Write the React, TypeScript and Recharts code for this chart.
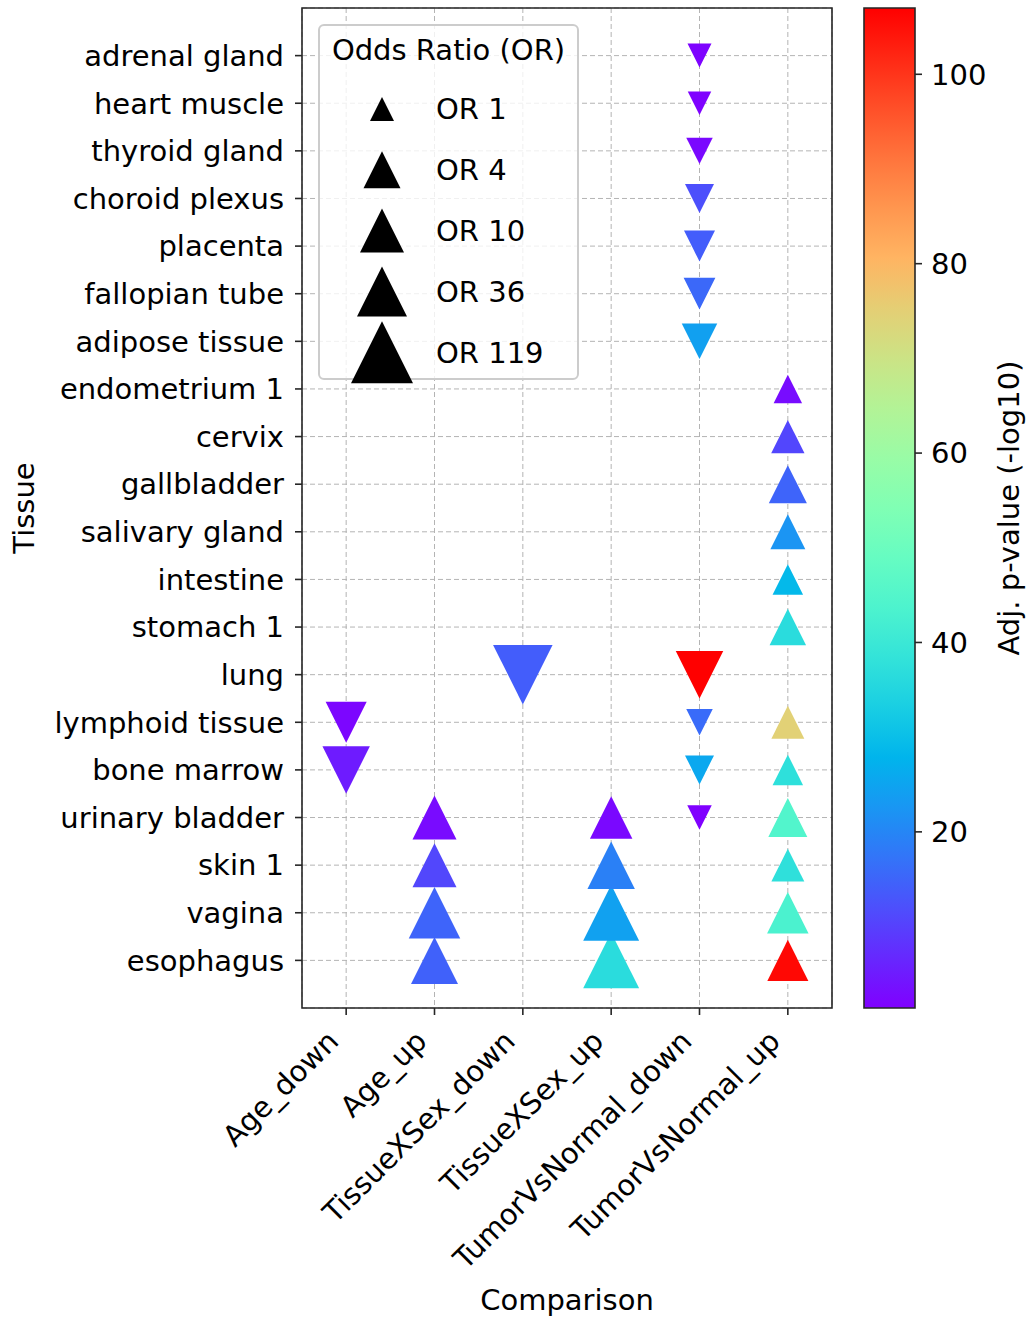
import React from "react";
import {
  CartesianGrid,
  ComposedChart,
  Label,
  Legend,
  ReferenceArea,
  Scatter,
  ScatterChart,
  XAxis,
  YAxis
} from "recharts";

const FONT = "DejaVu Sans";
const W = 1027;
const H = 1318;

const tissues = [
  "adrenal gland",
  "heart muscle",
  "thyroid gland",
  "choroid plexus",
  "placenta",
  "fallopian tube",
  "adipose tissue",
  "endometrium 1",
  "cervix",
  "gallbladder",
  "salivary gland",
  "intestine",
  "stomach 1",
  "lung",
  "lymphoid tissue",
  "bone marrow",
  "urinary bladder",
  "skin 1",
  "vagina",
  "esophagus"
];

const comparisons = [
  "Age_down",
  "Age_up",
  "TissueXSex_down",
  "TissueXSex_up",
  "TumorVsNormal_down",
  "TumorVsNormal_up"
];

type Hit = { tissue: string; or: number; p: number };

// or = odds ratio, p = adjusted p-value (-log10)
const ageDown: Hit[] = [
  { tissue: "lymphoid tissue", or: 6.8, p: 2.2 },
  { tissue: "bone marrow", or: 21, p: 5 }
];

const ageUp: Hit[] = [
  { tissue: "urinary bladder", or: 10, p: 2.8 },
  { tissue: "skin 1", or: 10, p: 10.9 },
  { tissue: "vagina", or: 42, p: 15 },
  { tissue: "esophagus", or: 19, p: 14.5 }
];

const tissueSexDown: Hit[] = [{ tissue: "lung", or: 93, p: 14 }];

const tissueSexUp: Hit[] = [
  { tissue: "urinary bladder", or: 8.2, p: 2.5 },
  { tissue: "skin 1", or: 21, p: 19 },
  { tissue: "vagina", or: 65, p: 24.3 },
  { tissue: "esophagus", or: 65, p: 36.4 }
];

const tumorDown: Hit[] = [
  { tissue: "adrenal gland", or: 1.0, p: 1.8 },
  { tissue: "heart muscle", or: 0.95, p: 1.6 },
  { tissue: "thyroid gland", or: 1.3, p: 2.5 },
  { tissue: "choroid plexus", or: 1.7, p: 12 },
  { tissue: "placenta", or: 2.1, p: 14 },
  { tissue: "fallopian tube", or: 2.3, p: 15.5 },
  { tissue: "adipose tissue", or: 3.4, p: 24.2 },
  { tissue: "lung", or: 21, p: 107 },
  { tissue: "lymphoid tissue", or: 1.3, p: 16 },
  { tissue: "bone marrow", or: 1.7, p: 25.6 },
  { tissue: "urinary bladder", or: 1.05, p: 1.4 }
];

const tumorUp: Hit[] = [
  { tissue: "endometrium 1", or: 1.6, p: 3 },
  { tissue: "cervix", or: 2.7, p: 10.8 },
  { tissue: "gallbladder", or: 4.6, p: 15 },
  { tissue: "salivary gland", or: 3.2, p: 22.3 },
  { tissue: "intestine", or: 2.0, p: 28.7 },
  { tissue: "stomach 1", or: 3.8, p: 36.4 },
  { tissue: "lymphoid tissue", or: 2.6, p: 74.6 },
  { tissue: "bone marrow", or: 2.0, p: 37.4 },
  { tissue: "urinary bladder", or: 5.2, p: 44.7 },
  { tissue: "skin 1", or: 2.6, p: 37.5 },
  { tissue: "vagina", or: 7.2, p: 43.4 },
  { tissue: "esophagus", or: 6.8, p: 106 }
];

const groups = [ageDown, ageUp, tissueSexDown, tissueSexUp, tumorDown, tumorUp];

const orLevels = [1, 4, 10, 36, 119];
const cbarTicks = [20, 40, 60, 80, 100];

// marker edge length (px) at each legend OR level, interpolated on log(OR)
const sizeAtLevel = [24, 37, 44, 50, 62];

function markerSize(or: number) {
  const l = Math.log(or);
  const ks = orLevels.map(Math.log);
  let i = 0;
  while (i < ks.length - 2 && l > ks[i + 1]) i++;
  const t = (l - ks[i]) / (ks[i + 1] - ks[i]);
  return sizeAtLevel[i] + t * (sizeAtLevel[i + 1] - sizeAtLevel[i]);
}

// matplotlib "rainbow" colormap
function rainbow(t: number) {
  const x = Math.max(0, Math.min(1, t));
  const r = Math.min(1, Math.abs(2 * x - 0.5));
  const g = Math.sin(Math.PI * x);
  const b = Math.cos((Math.PI * x) / 2);
  return `rgb(${Math.round(r * 255)},${Math.round(g * 255)},${Math.round(b * 255)})`;
}

const points = groups
  .flatMap((g, ci) =>
    g.map((h) => ({
      x: ci,
      y: tissues.indexOf(h.tissue),
      or: h.or,
      p: h.p,
      up: comparisons[ci].endsWith("_up")
    }))
  )
  .sort((a, b) => b.y - a.y);

const pMin = Math.min(...points.map((d) => d.p));
const pMax = Math.max(...points.map((d) => d.p));
const colorFor = (p: number) => rainbow((p - pMin) / (pMax - pMin));

function triangle(cx: number, cy: number, s: number, up: boolean) {
  const h = s / 2;
  return up
    ? `${cx},${cy - h} ${cx - h},${cy + h} ${cx + h},${cy + h}`
    : `${cx},${cy + h} ${cx - h},${cy - h} ${cx + h},${cy - h}`;
}

const Marker = (props: any) => {
  const { cx, cy, payload } = props;
  return (
    <polygon
      points={triangle(cx, cy, markerSize(payload.or), payload.up)}
      fill={colorFor(payload.p)}
    />
  );
};

const XTick = (props: any) => {
  const { x, y, payload } = props;
  const ex = x - 6;
  const ey = y + 19;
  return (
    <text
      x={ex}
      y={ey}
      textAnchor="end"
      transform={`rotate(-45 ${ex} ${ey})`}
      fontSize={29}
      fontFamily={FONT}
      fill="#000"
    >
      {comparisons[payload.value]}
    </text>
  );
};

const OrLegend = () => (
  <svg width={261} height={356} style={{ overflow: "visible", display: "block" }}>
    <rect x={1} y={1} width={259} height={354} rx={5} fill="#fff" fillOpacity={0.8} stroke="#cccccc" strokeWidth={2} />
    <text x={130.5} y={36} textAnchor="middle" fontSize={29} fontFamily={FONT} fill="#000">
      Odds Ratio (OR)
    </text>
    {orLevels.map((lv, i) => {
      const cy = 85 + i * 60.8;
      return (
        <g key={lv}>
          <polygon points={triangle(64, cy, markerSize(lv), true)} fill="#000" />
          <text x={118} y={cy} dy="0.36em" fontSize={29} fontFamily={FONT} fill="#000">
            {`OR ${lv}`}
          </text>
        </g>
      );
    })}
  </svg>
);

const cbarStops = Array.from({ length: 21 }, (_, i) => i / 20);

export default function App() {
  return (
    <div style={{ position: "relative", width: W, height: H, background: "#fff" }}>
      <style>{"body{margin:0}"}</style>
      <div style={{ position: "absolute", left: 0, top: 0 }}>
        <ScatterChart width={W} height={H} margin={{ top: 8, right: 195, bottom: 0, left: 0 }}>
          <CartesianGrid stroke="#b4b4b4" strokeDasharray="5 3" />
          <XAxis
            type="number"
            dataKey="x"
            domain={[-0.5, 5.5]}
            ticks={[0, 1, 2, 3, 4, 5]}
            interval={0}
            height={310}
            tickSize={7}
            tickMargin={9}
            axisLine={false}
            stroke="#262626"
            tickLine={{ stroke: "#262626", strokeWidth: 1.6 }}
            tick={XTick}
            allowDataOverflow
          >
            <Label
              content={() => (
                <text x={567} y={1310} textAnchor="middle" fontSize={29} fontFamily={FONT} fill="#000">
                  Comparison
                </text>
              )}
            />
          </XAxis>
          <YAxis
            type="number"
            dataKey="y"
            domain={[-1, 20]}
            reversed
            ticks={tissues.map((_, i) => i)}
            interval={0}
            width={302}
            tickSize={7}
            tickMargin={11}
            axisLine={false}
            stroke="#262626"
            tickLine={{ stroke: "#262626", strokeWidth: 1.6 }}
            tickFormatter={(i: number) => tissues[i]}
            tick={{ fontSize: 29, fontFamily: FONT, fill: "#000" }}
            allowDataOverflow
          >
            <Label
              content={() => (
                <text
                  x={34}
                  y={508}
                  textAnchor="middle"
                  transform="rotate(-90 34 508)"
                  fontSize={29}
                  fontFamily={FONT}
                  fill="#000"
                >
                  Tissue
                </text>
              )}
            />
          </YAxis>
          <Scatter data={points} shape={Marker} isAnimationActive={false} />
          <ReferenceArea
            x1={-0.5}
            x2={5.5}
            y1={-1}
            y2={20}
            fill="none"
            stroke="#262626"
            strokeWidth={1.6}
            ifOverflow="visible"
          />
          <Legend
            content={OrLegend}
            layout="vertical"
            verticalAlign="middle"
            align="center"
            wrapperStyle={{ position: "absolute", left: 318, top: 24, width: 261, height: 356 }}
          />
        </ScatterChart>
      </div>
      <div style={{ position: "absolute", left: 0, top: 0 }}>
        <ComposedChart
          width={W}
          height={H}
          data={[{ x: 0 }, { x: 1 }]}
          margin={{ top: 8, right: 0, bottom: 310, left: 864 }}
        >
          <defs>
            <linearGradient id="pvalueScale" x1="0" y1="1" x2="0" y2="0">
              {cbarStops.map((t) => (
                <stop key={t} offset={t} stopColor={rainbow(t)} />
              ))}
            </linearGradient>
          </defs>
          <XAxis type="number" dataKey="x" domain={[0, 1]} hide />
          <YAxis
            type="number"
            orientation="right"
            domain={[pMin, pMax]}
            ticks={cbarTicks}
            interval={0}
            width={112}
            tickSize={7}
            tickMargin={9}
            axisLine={false}
            stroke="#262626"
            tickLine={{ stroke: "#262626", strokeWidth: 1.6 }}
            tick={{ fontSize: 29, fontFamily: FONT, fill: "#000" }}
            allowDataOverflow
          >
            <Label
              content={() => (
                <text
                  x={1019}
                  y={508}
                  textAnchor="middle"
                  transform="rotate(-90 1019 508)"
                  fontSize={29}
                  fontFamily={FONT}
                  fill="#000"
                >
                  Adj. p-value (-log10)
                </text>
              )}
            />
          </YAxis>
          <ReferenceArea
            x1={0}
            x2={1}
            y1={pMin}
            y2={pMax}
            fill="url(#pvalueScale)"
            fillOpacity={1}
            stroke="#262626"
            strokeWidth={1.6}
            ifOverflow="visible"
          />
        </ComposedChart>
      </div>
    </div>
  );
}
